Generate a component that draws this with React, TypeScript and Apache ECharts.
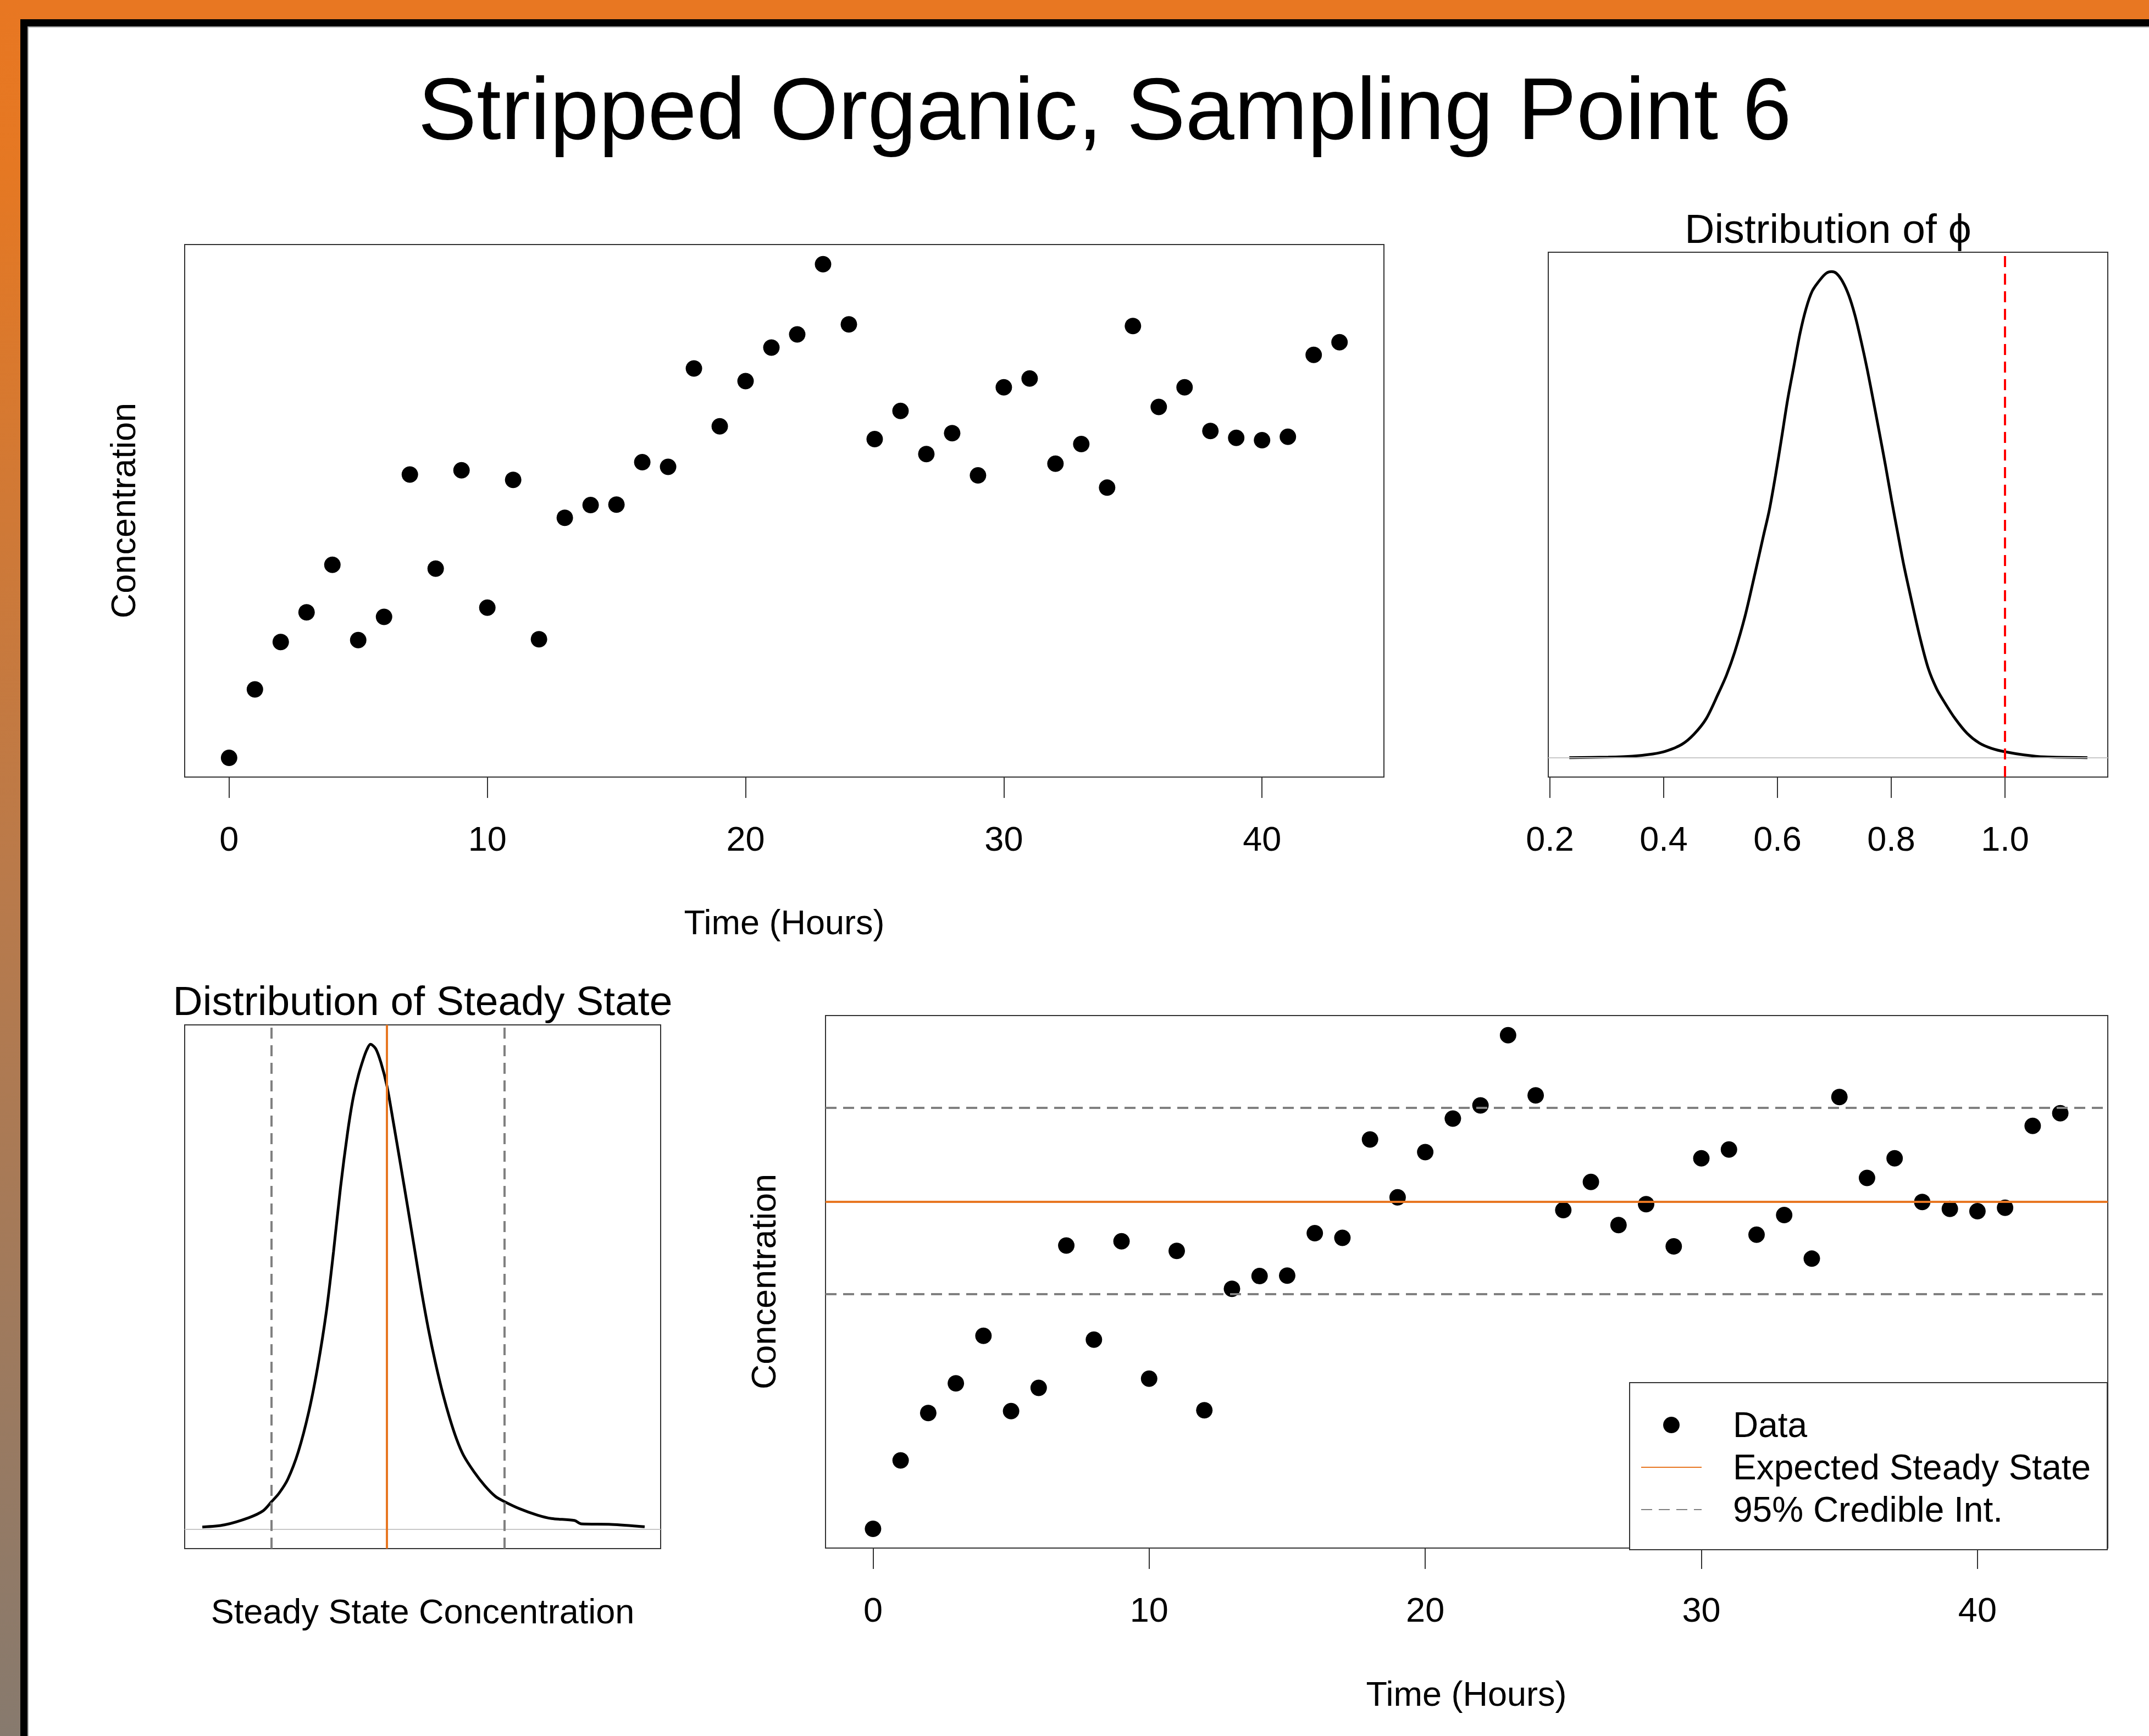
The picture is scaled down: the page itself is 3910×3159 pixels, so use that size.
import React, { useEffect, useRef } from "react";
import * as echarts from "echarts";

const W = 3910;
const H = 3159;
const FONT = "'Liberation Sans', Arial, Helvetica, sans-serif";

// ---- Data ----
const hours = [
  0, 1, 2, 3, 4, 5, 6, 7, 8, 9, 10, 11, 12, 13, 14, 15, 16, 17, 18, 19, 20, 21,
  22, 23, 24, 25, 26, 27, 28, 29, 30, 31, 32, 33, 34, 35, 36, 37, 38, 39, 40,
  41, 42, 43,
];
const concentration = [
  5.0, 22.7, 35.0, 42.7, 55.0, 35.5, 41.5, 78.4, 54.0, 79.5, 43.9, 77.0, 35.7,
  67.2, 70.5, 70.6, 81.6, 80.4, 105.9, 90.9, 102.6, 111.3, 114.7, 132.9, 117.3,
  87.6, 94.9, 83.7, 89.1, 78.2, 101.0, 103.3, 81.2, 86.3, 75.0, 116.9, 95.9,
  101.0, 89.7, 87.9, 87.3, 88.2, 109.4, 112.7,
];
const timeTicks = [0, 10, 20, 30, 40];

const steadyMean = 89.8;
const ciLow = 65.9;
const ciHigh = 114.1;

const phiX = [
  0.234, 0.3025, 0.3455, 0.381, 0.403, 0.4315, 0.453, 0.4746, 0.496, 0.5104,
  0.5247, 0.5427, 0.5606, 0.575, 0.5857, 0.5964, 0.6072, 0.618, 0.6287, 0.6394,
  0.6502, 0.661, 0.6753, 0.686, 0.6953, 0.704, 0.7147, 0.7254, 0.7362, 0.747,
  0.7577, 0.7685, 0.7792, 0.79, 0.8007, 0.8115, 0.8222, 0.8366, 0.8509, 0.8652,
  0.8796, 0.894, 0.9118, 0.9333, 0.9548, 0.9763, 1.0, 1.0337, 1.0695, 1.1448,
];
const phiDensity = [
  0, 0.001, 0.003, 0.0075, 0.013, 0.027, 0.048, 0.08, 0.132, 0.17, 0.217,
  0.29, 0.38, 0.455, 0.51, 0.58, 0.658, 0.738, 0.805, 0.872, 0.924, 0.96,
  0.984, 0.997, 1.0, 0.996, 0.979, 0.951, 0.91, 0.857, 0.799, 0.734, 0.668,
  0.6, 0.529, 0.461, 0.395, 0.318, 0.245, 0.183, 0.142, 0.113, 0.081, 0.05,
  0.03, 0.019, 0.012, 0.0056, 0.0015, 0,
];
const phiTicks = [0.2, 0.4, 0.6, 0.8, 1.0];
const phiReference = 1.0;

const ssX = [
  51.65, 56.23, 61.32, 64.23, 65.9, 67.5, 69.32, 71.5, 73.68, 75.5, 77.31,
  78.77, 80.22, 81.68, 82.77, 83.86, 84.95, 85.67, 86.4, 87.49, 88.58, 89.82,
  91.13, 92.58, 94.04, 95.49, 96.94, 98.4, 99.85, 101.31, 102.76, 104.21,
  105.67, 107.85, 110.03, 112.21, 114.1, 117.3, 120.93, 123.84, 128.57, 130.02,
  136.2, 143.1,
];
const ssDensity = [
  0.0045, 0.009, 0.024, 0.038, 0.056, 0.074, 0.103, 0.16, 0.243, 0.335, 0.45,
  0.572, 0.705, 0.818, 0.886, 0.934, 0.97, 0.989, 1.0, 0.991, 0.962, 0.914,
  0.84, 0.755, 0.668, 0.58, 0.492, 0.412, 0.343, 0.282, 0.23, 0.186, 0.152,
  0.118, 0.09, 0.068, 0.057, 0.042, 0.029, 0.022, 0.018, 0.011, 0.01, 0.005,
];

// ---- Styles ----
const ORANGE = "#E87722";
const DASH_GRAY = "#808080";
const BOX = "#333333";
const DASH = [20, 12];
const HIDDEN_ITEM = {
  color: "rgba(0,0,0,0)",
  borderColor: "rgba(0,0,0,0)",
  borderWidth: 0,
  opacity: 0,
};

const gridBox = {
  show: true,
  borderColor: BOX,
  borderWidth: 2,
  backgroundColor: "transparent",
  containLabel: false,
};

const tickLabel = {
  fontSize: 63,
  lineHeight: 63,
  fontFamily: FONT,
  color: "#000",
  margin: 80,
};

const hiddenY = (gridIndex: number, min: number, max: number) => ({
  type: "value",
  gridIndex,
  min,
  max,
  show: false,
  splitLine: { show: false },
});

const txt = (
  text: string,
  x: number,
  y: number,
  fontSize: number,
  rotation = 0
) => ({
  type: "text",
  x,
  y,
  rotation,
  silent: true,
  style: {
    text,
    fill: "#000",
    fontSize,
    fontFamily: FONT,
    textAlign: "center",
    textVerticalAlign: "middle",
    align: "center",
    verticalAlign: "middle",
  },
});

export default function App() {
  const ref = useRef<HTMLDivElement>(null);

  useEffect(() => {
    document.body.style.margin = "0";
    if (!ref.current) return;
    const chart = echarts.init(ref.current, undefined, {
      renderer: "svg",
      width: W,
      height: H,
    });

    const timeAxis = (gridIndex: number) => ({
      type: "value",
      gridIndex,
      min: -1.72,
      max: 44.72,
      splitLine: { show: false },
      axisLine: { show: false, onZero: false },
      axisTick: {
        show: true,
        length: 38,
        lineStyle: { color: BOX, width: 2 },
        customValues: timeTicks,
      },
      axisLabel: { ...tickLabel, customValues: timeTicks },
    });

    const option: any = {
      animation: false,
      backgroundColor: "#ffffff",
      grid: [
        { ...gridBox, left: 336, top: 445, width: 2182, height: 969 },
        { ...gridBox, left: 2817, top: 459, width: 1018, height: 955 },
        { ...gridBox, left: 336, top: 1865, width: 866, height: 953 },
        { ...gridBox, left: 1502, top: 1848, width: 2333, height: 969 },
      ],
      xAxis: [
        timeAxis(0),
        {
          type: "value",
          gridIndex: 1,
          min: 0.197,
          max: 1.1806,
          splitLine: { show: false },
          axisLine: { show: false, onZero: false },
          axisTick: {
            show: true,
            length: 38,
            lineStyle: { color: BOX, width: 2 },
            customValues: phiTicks,
          },
          axisLabel: {
            ...tickLabel,
            customValues: phiTicks,
            formatter: (v: number) => v.toFixed(1),
          },
        },
        {
          type: "value",
          gridIndex: 2,
          min: 48.0,
          max: 146.4,
          splitLine: { show: false },
          axisLine: { show: false, onZero: false },
          axisTick: { show: false },
          axisLabel: { show: false },
        },
        timeAxis(3),
      ],
      yAxis: [
        hiddenY(0, 0, 138),
        hiddenY(1, -0.04, 1.04),
        hiddenY(2, -0.04, 1.04),
        hiddenY(3, 0, 138),
      ],
      legend: {
        show: true,
        orient: "vertical",
        left: 2965,
        top: 2516,
        padding: [45, 30, 41, 20],
        itemWidth: 110,
        itemHeight: 30,
        itemGap: 13,
        borderColor: BOX,
        borderWidth: 2,
        borderRadius: 0,
        backgroundColor: "#ffffff",
        selectedMode: false,
        textStyle: {
          fontSize: 64,
          lineHeight: 63,
          fontFamily: FONT,
          color: "#000",
          padding: [0, 0, 0, 52],
        },
        data: [
          { name: "Data", icon: "circle", itemStyle: { color: "#000", opacity: 1 } },
          { name: "Expected Steady State", itemStyle: HIDDEN_ITEM },
          { name: "95% Credible Int.", itemStyle: HIDDEN_ITEM },
        ],
      },
      series: [
        {
          type: "scatter",
          name: "Observed",
          xAxisIndex: 0,
          yAxisIndex: 0,
          data: hours.map((h, i) => [h, concentration[i]]),
          symbolSize: 30,
          itemStyle: { color: "#000", opacity: 1 },
          silent: true,
        },
        {
          type: "line",
          name: "Phi density",
          xAxisIndex: 1,
          yAxisIndex: 1,
          data: phiX.map((x, i) => [x, phiDensity[i]]),
          symbol: "none",
          showSymbol: false,
          smooth: 0.3,
          lineStyle: { color: "#000", width: 5 },
          silent: true,
          markLine: {
            symbol: "none",
            silent: true,
            label: { show: false },
            emphasis: { disabled: true },
            data: [
              {
                yAxis: 0,
                lineStyle: { color: "#C8C8C8", width: 2, type: "solid" },
              },
              {
                xAxis: phiReference,
                lineStyle: { color: "#FF0000", width: 4, type: DASH },
              },
            ],
          },
        },
        {
          type: "line",
          name: "Steady state density",
          xAxisIndex: 2,
          yAxisIndex: 2,
          data: ssX.map((x, i) => [x, ssDensity[i]]),
          symbol: "none",
          showSymbol: false,
          smooth: 0.3,
          lineStyle: { color: "#000", width: 5 },
          silent: true,
          markLine: {
            symbol: "none",
            silent: true,
            label: { show: false },
            emphasis: { disabled: true },
            data: [
              {
                yAxis: 0,
                lineStyle: { color: "#C8C8C8", width: 2, type: "solid" },
              },
              {
                xAxis: ciLow,
                lineStyle: { color: DASH_GRAY, width: 4, type: DASH },
              },
              {
                xAxis: ciHigh,
                lineStyle: { color: DASH_GRAY, width: 4, type: DASH },
              },
              {
                xAxis: steadyMean,
                lineStyle: { color: ORANGE, width: 4, type: "solid" },
              },
            ],
          },
        },
        {
          type: "scatter",
          name: "Data",
          xAxisIndex: 3,
          yAxisIndex: 3,
          data: hours.map((h, i) => [h, concentration[i]]),
          symbolSize: 30,
          itemStyle: { color: "#000", opacity: 1 },
          silent: true,
        },
        {
          type: "line",
          name: "Expected Steady State",
          xAxisIndex: 3,
          yAxisIndex: 3,
          data: [],
          symbol: "none",
          lineStyle: { color: ORANGE, width: 4, type: "solid" },
          itemStyle: HIDDEN_ITEM,
          markLine: {
            symbol: "none",
            silent: true,
            label: { show: false },
            emphasis: { disabled: true },
            lineStyle: { color: ORANGE, width: 4, type: "solid" },
            data: [{ yAxis: steadyMean }],
          },
        },
        {
          type: "line",
          name: "95% Credible Int.",
          xAxisIndex: 3,
          yAxisIndex: 3,
          data: [],
          symbol: "none",
          lineStyle: { color: DASH_GRAY, width: 5, type: DASH },
          itemStyle: HIDDEN_ITEM,
          markLine: {
            symbol: "none",
            silent: true,
            label: { show: false },
            emphasis: { disabled: true },
            lineStyle: { color: DASH_GRAY, width: 4, type: DASH },
            data: [{ yAxis: ciLow }, { yAxis: ciHigh }],
          },
        },
      ],
      graphic: [
        {
          type: "rect",
          silent: true,
          shape: { x: 0, y: 0, width: W, height: 35 },
          style: { fill: ORANGE },
        },
        {
          type: "rect",
          silent: true,
          shape: { x: 0, y: 0, width: 37, height: H },
          style: {
            fill: {
              type: "linear",
              x: 0,
              y: 0,
              x2: 0,
              y2: 1,
              colorStops: [
                { offset: 0, color: "#E87722" },
                { offset: 0.1, color: "#E57823" },
                { offset: 0.5, color: "#BA7A4A" },
                { offset: 1, color: "#877A6E" },
              ],
            },
          },
        },
        {
          type: "rect",
          silent: true,
          shape: { x: 37, y: 35, width: W - 37, height: 13 },
          style: { fill: "#000" },
        },
        {
          type: "rect",
          silent: true,
          shape: { x: 37, y: 35, width: 13, height: H - 35 },
          style: { fill: "#000" },
        },
        {
          type: "rect",
          silent: true,
          shape: { x: 50, y: 48, width: W - 50, height: 2 },
          style: { fill: "#A8A8A8" },
        },
        {
          type: "rect",
          silent: true,
          shape: { x: 50, y: 48, width: 2, height: H - 48 },
          style: { fill: "#A8A8A8" },
        },
        txt("Stripped Organic, Sampling Point 6", 2010, 197, 160),
        txt("Distribution of \u03D5", 3326, 416, 75),
        txt("Distribution of Steady State", 769, 1821, 75),
        txt("Time (Hours)", 1427, 1678, 63),
        txt("Concentration", 224, 929, 63, Math.PI / 2),
        txt("Steady State Concentration", 769, 2932, 63),
        txt("Time (Hours)", 2668, 3082, 63),
        txt("Concentration", 1389, 2332, 63, Math.PI / 2),
      ],
    };

    chart.setOption(option);
    return () => chart.dispose();
  }, []);

  return <div ref={ref} style={{ width: W, height: H }} />;
}
